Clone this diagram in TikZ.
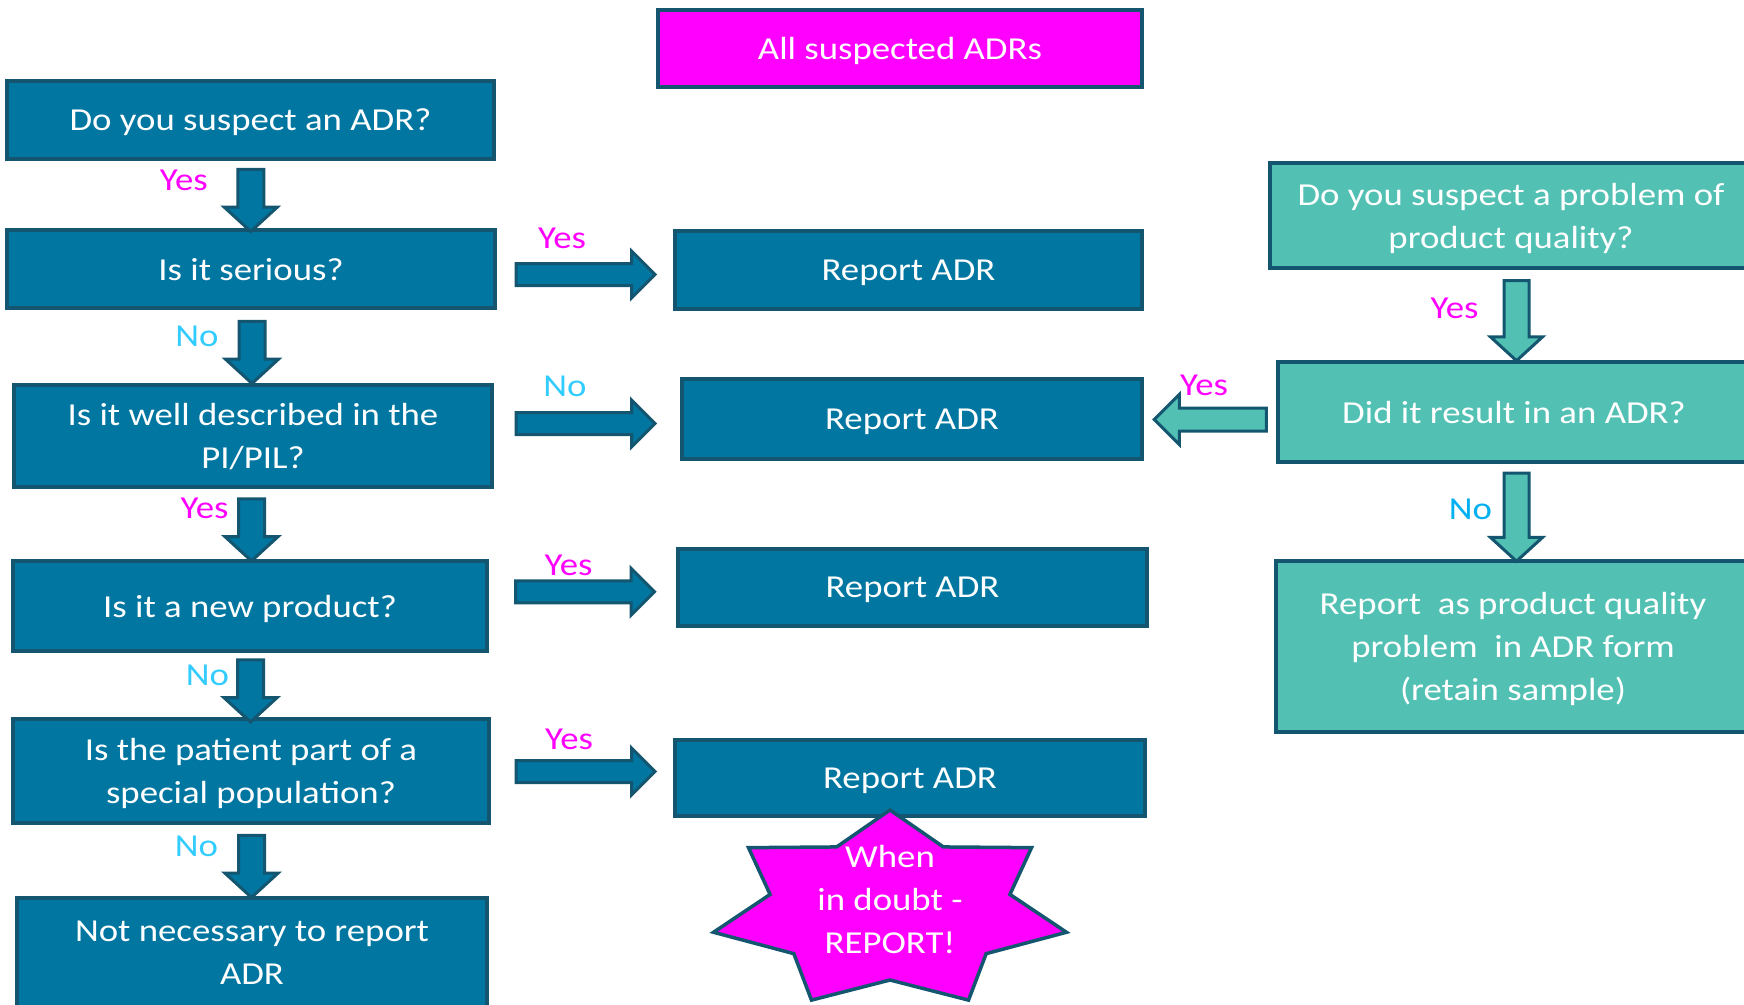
\documentclass[tikz,border=0pt]{standalone}
\usepackage{fontspec}
\setmainfont{Carlito}[FakeStretch=1.15]
\usetikzlibrary{shapes.arrows,calc,positioning}

\definecolor{adrblue}{RGB}{0,118,160}
\definecolor{adrline}{RGB}{20,86,112}
\definecolor{adrteal}{RGB}{82,193,180}
\definecolor{adrpink}{RGB}{255,0,255}
\definecolor{nocyan}{RGB}{51,204,255}
\definecolor{noblue}{RGB}{0,176,240}

\tikzset{every picture/.style={line width=0.75pt}}
\tikzset{
  box/.style={draw=adrline, line width=3.5pt, text=white, align=center, inner sep=0pt, text depth=0pt, font=\fontsize{32}{43}\selectfont},
  bluebox/.style={box, fill=adrblue},
  tealbox/.style={box, fill=adrteal},
  pinkbox/.style={box, fill=adrpink},
  blockarrow/.style={single arrow, draw=adrline, line width=3pt, inner sep=0pt, text depth=0pt},
  downarrow/.style={blockarrow, fill=adrblue, text height=23pt, single arrow head extend=13.5pt, single arrow tip angle=95, rotate=-90, minimum height=62pt},
  rightarrow/.style={blockarrow, fill=adrblue, text height=19pt, single arrow head extend=12.5pt, single arrow tip angle=90, minimum height=139pt},
  tealdown/.style={blockarrow, fill=adrteal, text height=22pt, single arrow head extend=13.5pt, single arrow tip angle=95, rotate=-90},
  tealleft/.style={blockarrow, fill=adrteal, text height=20pt, single arrow head extend=13.5pt, single arrow tip angle=90, rotate=180, minimum height=112pt},
  lbl/.style={inner sep=0pt, font=\fontsize{32}{43}\selectfont},
  yeslbl/.style={lbl, text=adrpink},
  nolbl/.style={lbl, text=nocyan},
  nolblb/.style={lbl, text=noblue},
  starshape/.style={draw=adrline, fill=adrpink, line width=3.5pt, line join=miter}
}

\begin{document}
\begin{tikzpicture}[x=1pt,y=1pt,yscale=-1,xscale=1]
\path[use as bounding box] (0,0) rectangle (1744,1004);
\clip (0,0) rectangle (1744,1004);

%Shape: Rectangle
\node[pinkbox, minimum width=484pt, minimum height=77pt] (allsusp) at (900,48.5) {All suspected ADRs};

%Shape: Rectangle
\node[bluebox, minimum width=487pt, minimum height=78pt] (q1) at (250.5,120) {Do you suspect an ADR?};
%Shape: Rectangle
\node[bluebox, minimum width=488pt, minimum height=78pt] (q2) at (251,269) {Is it serious?};
%Shape: Rectangle
\node[bluebox, minimum width=478pt, minimum height=102pt] (q3) at (253,436) {Is it well described in the\\PI/PIL?};
%Shape: Rectangle
\node[bluebox, minimum width=474pt, minimum height=90pt] (q4) at (250,606) {Is it a new product?};
%Shape: Rectangle
\node[bluebox, minimum width=476pt, minimum height=104pt] (q5) at (251,771) {Is the patient part of a\\special population?};
%Shape: Rectangle
\node[bluebox, minimum width=470pt, minimum height=110pt] (q6) at (252,953) {Not necessary to report\\ADR};

%Shape: Rectangle
\node[bluebox, minimum width=467pt, minimum height=78pt] (rep1) at (908.5,270) {Report ADR};
%Shape: Rectangle
\node[bluebox, minimum width=460pt, minimum height=80pt] (rep2) at (912,419) {Report ADR};
%Shape: Rectangle
\node[bluebox, minimum width=469pt, minimum height=77pt] (rep3) at (912.5,587.5) {Report ADR};
%Shape: Rectangle
\node[bluebox, minimum width=470pt, minimum height=76pt] (rep4) at (910,778) {Report ADR};

%Shape: Rectangle
\node[tealbox, minimum width=482pt, minimum height=105pt] (qual1) at (1511,215.5) {Do you suspect a problem of\\product quality?};
%Shape: Rectangle
\node[tealbox, minimum width=472pt, minimum height=100pt] (qual2) at (1514,412) {Did it result in an ADR?};
%Shape: Rectangle
\node[tealbox, minimum width=474pt, minimum height=171pt] (qual3) at (1513,646.5) {Report\ \ as product quality\\problem\ \ in ADR form\\(retain sample)};

%Shape: Down Arrow
\node[downarrow] (a1) at ($(q1.south)!0.5!(q2.north)$) {};
%Shape: Down Arrow
\node[downarrow] (a2) at ($(q2.south)!0.5!(q3.north)$) {};
%Shape: Down Arrow
\node[downarrow] (a3) at ($(q3.south)!0.5!(q4.north)$) {};
%Shape: Down Arrow
\node[downarrow] (a4) at ($(q4.south)!0.5!(q5.north)$) {};
%Shape: Down Arrow
\node[downarrow] (a5) at ($(q5.south)!0.5!(q6.north)$) {};

%Shape: Right Arrow
\node[rightarrow] (h1) at ($(q2.east)!0.5!(rep1.west)+(-5,5)$) {};
%Shape: Right Arrow
\node[rightarrow] (h2) at ($(q3.east)!0.5!(rep2.west)+(-7,-4)$) {};
%Shape: Right Arrow
\node[rightarrow] (h3) at ($(q4.east)!0.5!(rep3.west)+(-3,-5)$) {};
%Shape: Right Arrow
\node[rightarrow] (h4) at ($(q5.east)!0.5!(rep4.west)+(-2,-3)$) {};

%Shape: Left Arrow
\node[tealleft] (t1) at ($(qual2.west)!0.5!(rep2.east)+(6,4)$) {};
%Shape: Down Arrow
\node[tealdown, minimum height=80pt] (t2) at ($(qual1.south)!0.5!(qual2.north)+(4,0)$) {};
%Shape: Down Arrow
\node[tealdown, minimum height=88pt] (t3) at ($(qual2.south)!0.5!(qual3.north)+(3,0)$) {};

%Shape: Star
\draw[starshape] (890,810) \foreach \k [evaluate=\k as \a using {-90+\k*180/7}, evaluate=\k as \rx using {181-58*mod(\k,2)}, evaluate=\k as \ry using {100-30*mod(\k,2)}] in {1,...,13} { -- ({890+\rx*cos(\a)},{910+\ry*sin(\a)}) } -- cycle;
% Text Node
\node[lbl, text=white, align=center] (doubt) at (890,899) {When\\in doubt -\\REPORT!};

% Text Node
\node[yeslbl] at ($(a1)+(-67,-14)$) {Yes};
% Text Node
\node[nolbl] at ($(a2)+(-55,-10)$) {No};
% Text Node
\node[yeslbl] at ($(a3)+(-47,-16)$) {Yes};
% Text Node
\node[nolbl] at ($(a4)+(-43,-10)$) {No};
% Text Node
\node[nolbl] at ($(a5)+(-55,-14)$) {No};
% Text Node
\node[yeslbl] at ($(h1)+(-18,-36)$) {Yes};
% Text Node
\node[nolbl] at ($(h2)+(-15,-37)$) {No};
% Text Node
\node[yeslbl] at ($(h3)+(-11,-26)$) {Yes};
% Text Node
\node[yeslbl] at ($(h4)+(-11,-32)$) {Yes};
% Text Node
\node[yeslbl] at ($(t1)+(-12,-34)$) {Yes};
% Text Node
\node[yeslbl] at ($(t2)+(-62,-7)$) {Yes};
% Text Node
\node[nolblb] at ($(t3)+(-46,-2)$) {No};

\end{tikzpicture}
\end{document}
